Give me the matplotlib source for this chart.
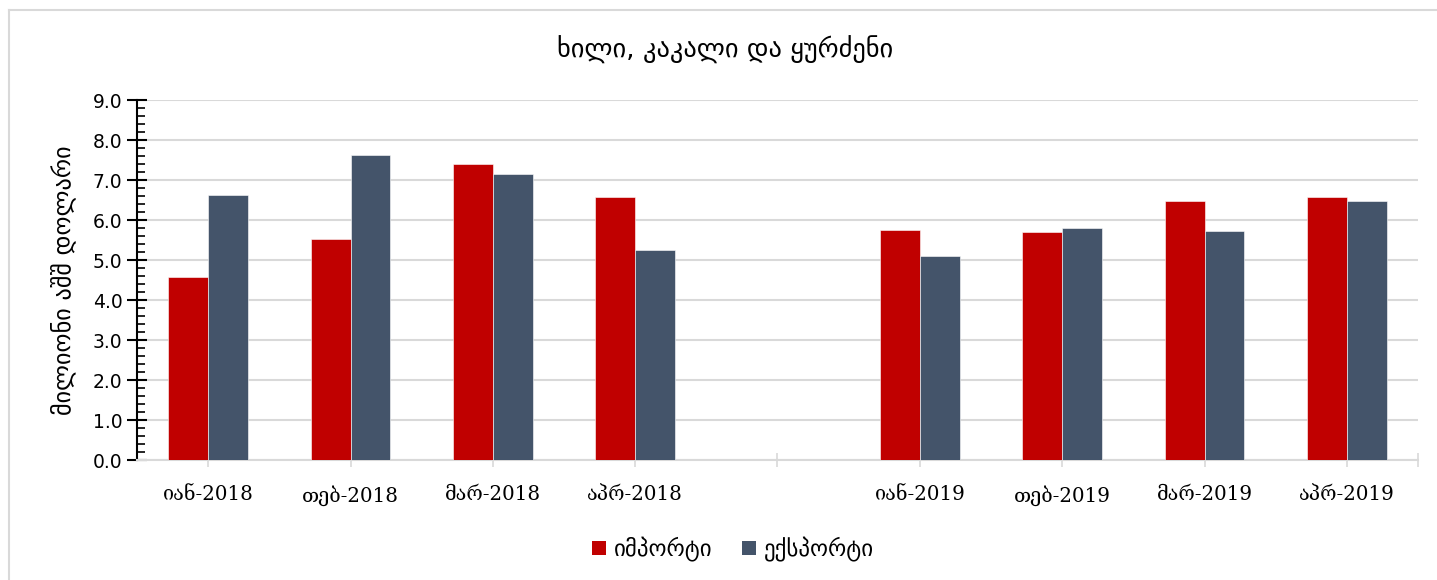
import matplotlib
matplotlib.use("Agg")
import matplotlib.pyplot as plt
import numpy as np
from matplotlib.lines import Line2D
from matplotlib.patches import Patch
from matplotlib.ticker import MultipleLocator, FormatStrFormatter

title = "ხილი, კაკალი და ყურძენი"
ylabel = "მილიონი აშშ დოლარი"
categories = ["იან-2018", "თებ-2018", "მარ-2018", "აპრ-2018", "",
              "იან-2019", "თებ-2019", "მარ-2019", "აპრ-2019"]
series_names = ["იმპორტი", "ექსპორტი"]
imports = [4.58, 5.53, 7.40, 6.57, np.nan, 5.74, 5.71, 6.47, 6.57]
exports = [6.62, 7.62, 7.16, 5.25, np.nan, 5.11, 5.80, 5.73, 6.48]
colors = ["#C00000", "#44546A"]

W, H = 1437, 580
fig = plt.figure(figsize=(W / 100, H / 100), dpi=100)
ax = fig.add_axes([137 / W, 1 - 460 / H, (1418 - 137) / W, 360 / H])

x = np.arange(len(categories))
bw = 0.28
ax.bar(x - bw / 2, imports, bw, color=colors[0], edgecolor="white", linewidth=0.4, zorder=3)
ax.bar(x + bw / 2, exports, bw, color=colors[1], edgecolor="white", linewidth=0.4, zorder=3)

ax.set_xlim(-0.5, len(categories) - 0.5)
ax.set_ylim(0, 9)
ax.yaxis.set_major_locator(MultipleLocator(1))
ax.yaxis.set_minor_locator(MultipleLocator(0.2))
ax.yaxis.set_major_formatter(FormatStrFormatter("%.1f"))
ax.grid(axis="y", color="#D9D9D9", linewidth=1.5, zorder=0)
ax.set_axisbelow(True)

ax.set_xticks(list(x) + [len(categories) - 0.5])
ax.set_xticklabels(categories + [""], family="DejaVu Serif", fontsize=14.3)
ax.tick_params(axis="x", direction="inout", length=10, color="#D9D9D9", width=1.2, pad=13)
ax.tick_params(axis="y", which="major", direction="inout", length=15, width=1.5,
               color="black", labelsize=13.5, pad=3)
ax.tick_params(axis="y", which="minor", direction="in", length=6, width=1.2, color="black")

for s in ["top", "right"]:
    ax.spines[s].set_visible(False)
ax.spines["left"].set_color("black")
ax.spines["left"].set_linewidth(1.5)
ax.spines["bottom"].set_color("#D9D9D9")
ax.spines["bottom"].set_linewidth(1.5)

ax.set_ylabel(ylabel, fontsize=17.5, labelpad=12)
fig.text(725 / W, 1 - 50 / H, title, ha="center", va="center", fontsize=19)

handles = [Patch(facecolor=c) for c in colors]
fig.legend(handles, series_names, loc="center", bbox_to_anchor=(733 / W, 1 - 549 / H),
           ncol=2, frameon=False, fontsize=16.5, handlelength=0.6, handleheight=0.6,
           columnspacing=1.3, handletextpad=0.35)

# outer chart border (left and top visible)
fig.add_artist(Line2D([8.5 / W, 8.5 / W], [0, 1 - 10 / H], color="#D9D9D9", lw=1.5,
                      transform=fig.transFigure))
fig.add_artist(Line2D([8.5 / W, 1], [1 - 10 / H, 1 - 10 / H], color="#D9D9D9", lw=1.5,
                      transform=fig.transFigure))

fig.savefig("out.png", dpi=100)
